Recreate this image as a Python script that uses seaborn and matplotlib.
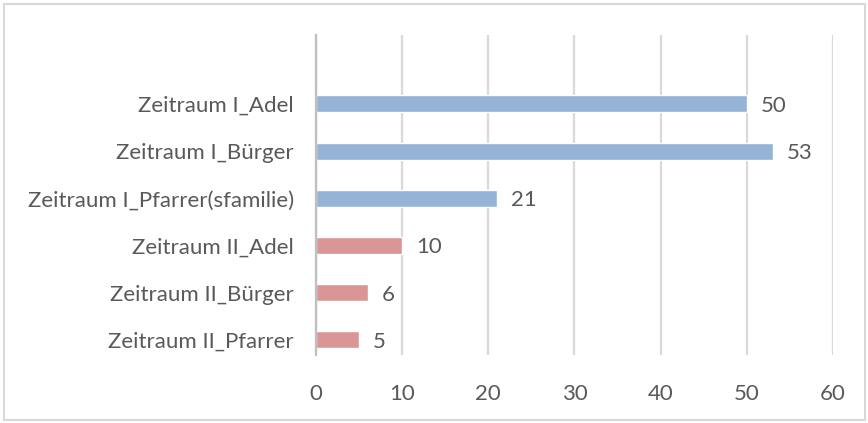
import pandas as pd
import matplotlib.pyplot as plt
import seaborn as sns
from matplotlib.patches import Rectangle

categories = ['Zeitraum I_Adel', 'Zeitraum I_Bürger', 'Zeitraum I_Pfarrer(sfamilie)',
              'Zeitraum II_Adel', 'Zeitraum II_Bürger', 'Zeitraum II_Pfarrer']
values = [50, 53, 21, 10, 6, 5]
periods = ['I', 'I', 'I', 'II', 'II', 'II']
colors = {'I': '#95B3D7', 'II': '#D99694'}

df = pd.DataFrame({'cat': categories, 'val': values, 'period': periods})

sns.set_theme(style='white')
plt.rcParams['font.family'] = ['Lato', 'DejaVu Sans']
text_col = '#595959'
fs = 16

fig = plt.figure(figsize=(8.68, 4.23), dpi=100)
ax = fig.add_axes([0.364, 0.1608, 0.5957, 0.7565])

sns.barplot(data=df, y='cat', x='val', hue='period', palette=colors, saturation=1,
            dodge=False, width=0.36, legend=False, ax=ax, zorder=3)

for c in ax.containers:
    labels = ax.bar_label(c, padding=10, fontsize=fs, color=text_col)
    for t in labels:
        t.set_va('center_baseline')

ax.set_xlim(0, 60)
ax.set_xticks(range(0, 61, 10))
ax.set_ylim(5.32, -1.46)
ax.set_xlabel('')
ax.set_ylabel('')
ax.grid(axis='x', color='#D9D9D9', linewidth=1.6, zorder=0)
ax.grid(axis='y', visible=False)
for s in ['top', 'right', 'bottom']:
    ax.spines[s].set_visible(False)
ax.spines['left'].set_color('#BFBFBF')
ax.spines['left'].set_linewidth(1.6)
ax.spines['left'].set_zorder(4)
ax.tick_params(axis='y', length=0, pad=16, labelsize=fs, labelcolor=text_col)
ax.tick_params(axis='x', length=0, pad=21, labelsize=fs, labelcolor=text_col)

fig.patches.append(Rectangle((4 / 868, 3 / 423), 861 / 868, 416 / 423, transform=fig.transFigure,
                             fill=False, edgecolor='#D9D9D9', linewidth=1.5))

fig.savefig('out.png', dpi=100)
